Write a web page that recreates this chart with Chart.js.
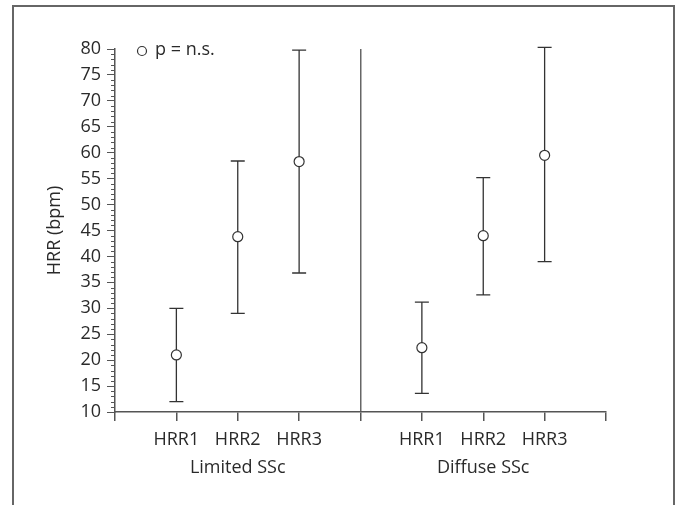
<!DOCTYPE html>
<html>
<head>
<meta charset="utf-8">
<script src="https://cdn.jsdelivr.net/npm/chart.js@4"></script>
<style>
  html, body { margin: 0; padding: 0; background: #fff; }
  #wrap { width: 678px; height: 505px; }
</style>
</head>
<body>
<div id="wrap"><canvas id="hrrChart"></canvas></div>
<script>
// categories and positions on the x scale
const groups = ["Limited SSc", "Diffuse SSc"];
const measures = ["HRR1", "HRR2", "HRR3"];
const xPositions = [1, 2, 3, 5, 6, 7];
const separatorAt = 4;

// values (bpm)
const means = [21.0, 43.8, 58.3, 22.4, 44.0, 59.5];
const upper = [30.0, 58.4, 79.8, 31.2, 55.2, 80.3];
const lower = [12.0, 29.0, 36.8, 13.6, 32.6, 39.0];

const yTicks = [10, 15, 20, 25, 30, 35, 40, 45, 50, 55, 60, 65, 70, 75, 80];

const FONT = "'Open Sans', 'Noto Sans', sans-serif";
const AXIS = "#555";
const INK = "#333";
const TEXT = "#2a2a2a";

const points = xPositions.map((x, i) => ({ x: x, y: means[i] }));

const labelAt = {};
xPositions.forEach((x, i) => {
    const name = measures[i % 3];
    // middle measure carries the group name on a second line
    labelAt[x] = (i % 3 === 1) ? [name, groups[Math.floor(i / 3)]] : name;
});

const extras = {
    id: "extras",
    beforeDatasetsDraw(chart) {
        const { ctx, scales: { x, y } } = chart;
        ctx.save();
        // error bars
        ctx.strokeStyle = INK;
        ctx.lineWidth = 1.3;
        xPositions.forEach((v, i) => {
            const px = x.getPixelForValue(v);
            const top = y.getPixelForValue(upper[i]);
            const bot = y.getPixelForValue(lower[i]);
            ctx.beginPath();
            ctx.moveTo(px, top);
            ctx.lineTo(px, bot);
            ctx.moveTo(px - 7, top);
            ctx.lineTo(px + 7, top);
            ctx.moveTo(px - 7, bot);
            ctx.lineTo(px + 7, bot);
            ctx.stroke();
        });
        ctx.restore();
    },
    afterDraw(chart) {
        const { ctx, scales: { x, y } } = chart;
        ctx.save();
        // minor ticks on the y axis
        ctx.strokeStyle = AXIS;
        ctx.lineWidth = 1;
        const ax = x.left;
        for (let v = yTicks[0]; v <= yTicks[yTicks.length - 1]; v++) {
            if (v % 5 === 0) continue;
            const py = Math.round(y.getPixelForValue(v)) + 0.5;
            ctx.beginPath();
            ctx.moveTo(ax - 4, py);
            ctx.lineTo(ax, py);
            ctx.stroke();
        }
        // legend
        ctx.strokeStyle = INK;
        ctx.lineWidth = 1.2;
        ctx.fillStyle = "#fff";
        ctx.beginPath();
        ctx.arc(142, 51, 4.5, 0, Math.PI * 2);
        ctx.fill();
        ctx.stroke();
        ctx.fillStyle = TEXT;
        ctx.font = "18px " + FONT;
        ctx.textBaseline = "middle";
        ctx.fillText("p = n.s.", 155, 50);
        // frame
        ctx.strokeStyle = "#666";
        ctx.lineWidth = 2;
        ctx.beginPath();
        ctx.moveTo(13, 505);
        ctx.lineTo(13, 6);
        ctx.lineTo(674, 6);
        ctx.lineTo(674, 505);
        ctx.stroke();
        ctx.restore();
    }
};

new Chart(document.getElementById("hrrChart"), {
    type: "scatter",
    data: {
        datasets: [{
            data: points,
            pointRadius: 5,
            pointHoverRadius: 5,
            pointBackgroundColor: "#fff",
            pointBorderColor: INK,
            pointBorderWidth: 1.2,
        }],
    },
    options: {
        responsive: true,
        maintainAspectRatio: false,
        animation: false,
        layout: { padding: { left: 0, top: 49, right: 72, bottom: 0 } },
        plugins: {
            legend: { display: false },
            tooltip: { enabled: false },
        },
        scales: {
            x: {
                type: "linear",
                min: 0,
                max: 8,
                afterFit: (s) => { s.height = 93; },
                afterBuildTicks: (s) => {
                    s.ticks = [0, 1, 2, 3, 4, 5, 6, 7, 8].map(v => ({ value: v }));
                },
                border: { color: AXIS, width: 1.5 },
                grid: {
                    drawOnChartArea: true,
                    tickLength: 9,
                    color: (c) => c.tick && c.tick.value === separatorAt ? "#666" : "rgba(0,0,0,0)",
                    tickColor: AXIS,
                    lineWidth: 1.5,
                },
                ticks: {
                    autoSkip: false,
                    maxRotation: 0,
                    padding: 4,
                    color: TEXT,
                    font: { family: FONT, size: 18, lineHeight: 1.6 },
                    callback: (v) => labelAt[v] || "",
                },
            },
            y: {
                min: 10,
                max: 80,
                afterFit: (s) => { s.width = 115; },
                afterBuildTicks: (s) => {
                    s.ticks = yTicks.map(v => ({ value: v }));
                },
                border: { color: AXIS, width: 1.5 },
                grid: {
                    drawOnChartArea: false,
                    tickLength: 8,
                    tickColor: AXIS,
                },
                ticks: {
                    padding: 6,
                    color: TEXT,
                    font: { family: FONT, size: 18 },
                },
                title: {
                    display: true,
                    text: "HRR (bpm)",
                    color: TEXT,
                    font: { family: FONT, size: 18 },
                    padding: { top: 44, bottom: 0 },
                },
            },
        },
    },
    plugins: [extras],
});
</script>
</body>
</html>
